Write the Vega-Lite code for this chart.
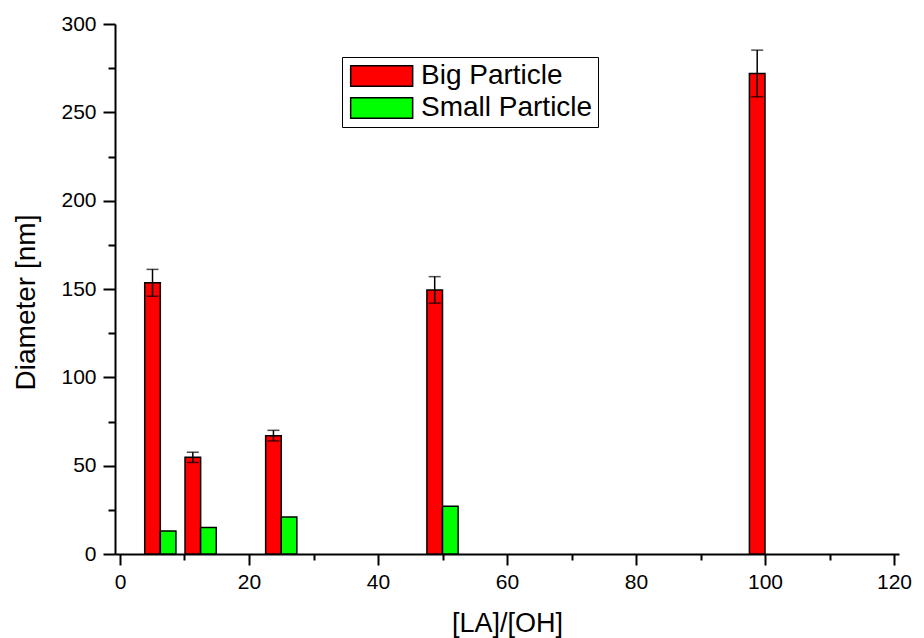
{
  "$schema": "https://vega.github.io/schema/vega-lite/v6.json",
  "width": 784,
  "height": 530,
  "autosize": {"type": "none"},
  "padding": {"left": 115, "top": 24, "right": 25, "bottom": 84},
  "background": "white",
  "config": {
    "view": {"stroke": null},
    "font": "Liberation Sans",
    "axis": {
      "grid": false,
      "domainColor": "black",
      "domainWidth": 2,
      "tickColor": "black",
      "tickWidth": 2,
      "labelFont": "Liberation Sans",
      "labelFontSize": 21,
      "labelColor": "black",
      "titleFont": "Liberation Sans",
      "titleFontSize": 27,
      "titleFontWeight": "normal",
      "titleColor": "black"
    }
  },
  "data": {
    "values": [
      {"LA_OH": 6.25, "series": "Big Particle", "diameter": 153.5, "err": 7.6},
      {"LA_OH": 12.5, "series": "Big Particle", "diameter": 54.7, "err": 2.9},
      {"LA_OH": 25, "series": "Big Particle", "diameter": 67, "err": 3},
      {"LA_OH": 50, "series": "Big Particle", "diameter": 149.5, "err": 7.5},
      {"LA_OH": 100, "series": "Big Particle", "diameter": 272, "err": 13.2},
      {"LA_OH": 6.25, "series": "Small Particle", "diameter": 13},
      {"LA_OH": 12.5, "series": "Small Particle", "diameter": 15},
      {"LA_OH": 25, "series": "Small Particle", "diameter": 21},
      {"LA_OH": 50, "series": "Small Particle", "diameter": 27}
    ]
  },
  "encoding": {
    "x": {
      "field": "LA_OH",
      "type": "quantitative",
      "scale": {"domain": [0, 120], "nice": false, "zero": false},
      "axis": {
        "title": "[LA]/[OH]",
        "values": [0, 10, 20, 30, 40, 50, 60, 70, 80, 90, 100, 110, 120],
        "labelExpr": "datum.value % 20 === 0 ? datum.label : ''",
        "tickSize": {"condition": {"test": "datum.value % 20 === 0", "value": 11}, "value": 6},
        "labelPadding": 6,
        "titlePadding": 18,
        "labelFlush": false
      }
    },
    "y": {
      "field": "diameter",
      "type": "quantitative",
      "scale": {"domain": [0, 300], "nice": false},
      "axis": {
        "title": "Diameter [nm]",
        "titleFontSize": 28,
        "titleY": 278,
        "values": [0, 25, 50, 75, 100, 125, 150, 175, 200, 225, 250, 275, 300],
        "labelExpr": "datum.value % 50 === 0 ? datum.label : ''",
        "tickSize": {"condition": {"test": "datum.value % 50 === 0", "value": 12}, "value": 7},
        "labelPadding": 7,
        "titlePadding": 20,
        "labelFlush": false
      }
    }
  },
  "layer": [
    {
      "transform": [{"filter": "datum.series === 'Big Particle'"}],
      "mark": {"type": "bar", "orient": "vertical", "width": 15.6, "xOffset": -7.8, "stroke": "black", "strokeWidth": 1.5},
      "encoding": {
        "color": {
          "field": "series",
          "type": "nominal",
          "scale": {"domain": ["Big Particle", "Small Particle"], "range": ["#ff0000", "#00ff00"]},
          "legend": {
            "title": null,
            "orient": "none",
            "legendX": 227,
            "legendY": 33,
            "strokeColor": "black",
            "padding": 5,
            "rowPadding": 4,
            "symbolType": "M-1,-1H5V1H-1Z",
            "symbolSize": 427,
            "symbolStrokeColor": "black",
            "symbolStrokeWidth": 1.5,
            "symbolOpacity": 1,
            "labelFont": "Liberation Sans",
            "labelFontSize": 28,
            "labelColor": "black",
            "labelOffset": 46,
            "labelLimit": 400
          }
        }
      }
    },
    {
      "transform": [{"filter": "datum.series === 'Small Particle'"}],
      "mark": {"type": "bar", "orient": "vertical", "width": 15.6, "xOffset": 7.8, "stroke": "black", "strokeWidth": 1.5},
      "encoding": {
        "color": {"field": "series", "type": "nominal"}
      }
    },
    {
      "transform": [{"filter": "datum.series === 'Big Particle'"}],
      "mark": {
        "type": "errorbar",
        "color": "black",
        "thickness": 1.5,
        "rule": {"xOffset": -7.8},
        "ticks": {"size": 12, "xOffset": -7.8}
      },
      "encoding": {
        "yError": {"field": "err"}
      }
    }
  ]
}
